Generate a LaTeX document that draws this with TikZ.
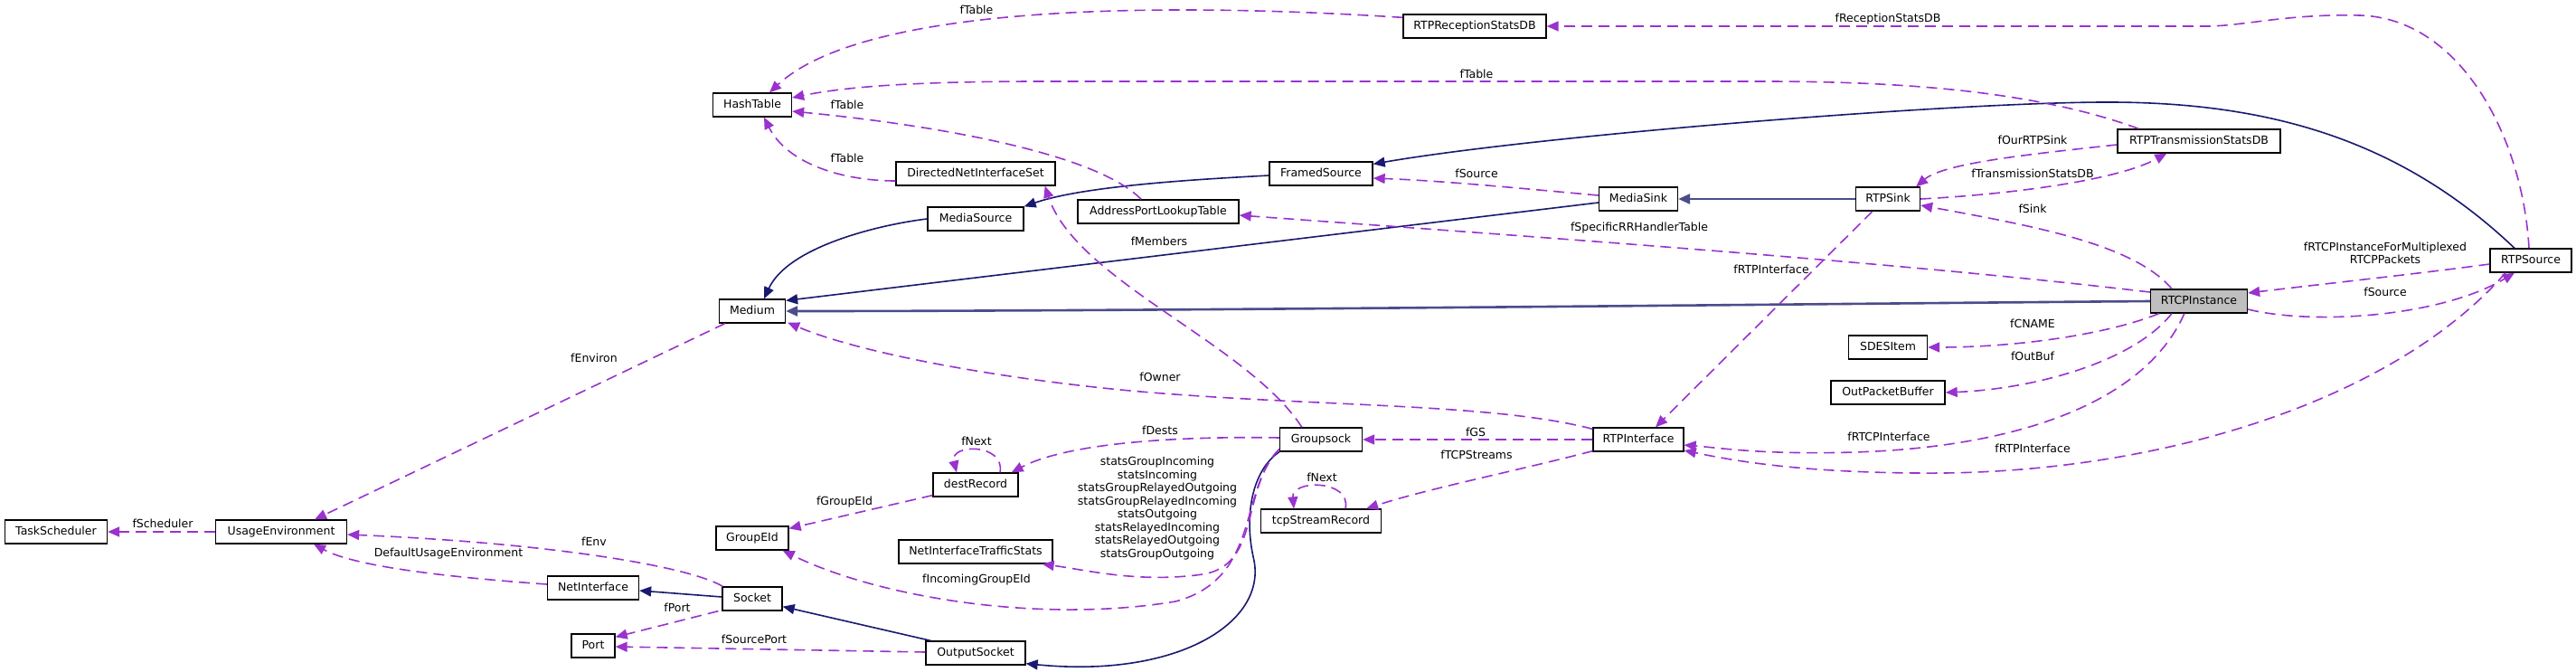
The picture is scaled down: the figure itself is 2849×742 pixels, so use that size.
\documentclass[tikz,border=0pt]{standalone}
\usepackage{fontspec}
\setmainfont{DejaVu Sans}
\usetikzlibrary{arrows.meta,calc}
\definecolor{inhc}{HTML}{191970}
\definecolor{inhthick}{HTML}{4C4C8C}
\definecolor{usec}{HTML}{9A32CD}
\definecolor{hilite}{HTML}{BFBFBF}
\begin{document}
\begin{tikzpicture}[x=1pt, y=-1pt,
  font=\fontsize{12.5}{14.5}\selectfont,
  cls/.style={draw=black, line width=1.3pt, fill=white, minimum height=26pt, inner sep=0pt, text height=9.5pt, text depth=2.5pt},
  inh/.style={draw=inhc, line width=1.6pt, -{Triangle[length=13pt,width=11pt]}},
  inhbold/.style={draw=inhthick, line width=2.6pt, -{Triangle[length=13pt,width=11pt]}},
  use/.style={draw=usec, line width=1.6pt, dash pattern=on 12pt off 7pt, -{Triangle[length=13pt,width=11pt]}},
  lbl/.style={inner sep=0pt, align=center, text=black}]
\useasboundingbox (0,0) rectangle (2849,742);
\fill[white] (0,0) rectangle (2849,742);

% ---------- nodes ----------
\node[cls, minimum width=113pt] (TaskScheduler) at (62,588) {TaskScheduler};
\node[cls, minimum width=145pt] (UsageEnvironment) at (311,588) {UsageEnvironment};
\node[cls, minimum width=101pt] (NetInterface) at (656,650) {NetInterface};
\node[cls, minimum width=48pt] (Port) at (656,714) {Port};
\node[cls, minimum width=73pt] (Medium) at (832,344) {Medium};
\node[cls, minimum width=87pt] (HashTable) at (832,116) {HashTable};
\node[cls, minimum width=80pt] (GroupEId) at (832,595) {GroupEId};
\node[cls, minimum width=66pt] (Socket) at (832,662) {Socket};
\node[cls, minimum width=176pt] (DirectedNetInterfaceSet) at (1079,192) {DirectedNetInterfaceSet};
\node[cls, minimum width=106pt] (MediaSource) at (1079,242) {MediaSource};
\node[cls, minimum width=94pt] (destRecord) at (1079,536) {destRecord};
\node[cls, minimum width=170pt] (NetInterfaceTrafficStats) at (1079,610) {NetInterfaceTrafficStats};
\node[cls, minimum width=110pt] (OutputSocket) at (1079,722) {OutputSocket};
\node[cls, minimum width=178pt] (AddressPortLookupTable) at (1281,234) {AddressPortLookupTable};
\node[cls, minimum width=114pt] (FramedSource) at (1461,192) {FramedSource};
\node[cls, minimum width=91pt] (Groupsock) at (1461,486) {Groupsock};
\node[cls, minimum width=133pt] (tcpStreamRecord) at (1461,576) {tcpStreamRecord};
\node[cls, minimum width=158pt] (RTPReceptionStatsDB) at (1631,29) {RTPReceptionStatsDB};
\node[cls, minimum width=87pt] (MediaSink) at (1812,220) {MediaSink};
\node[cls, minimum width=100pt] (RTPInterface) at (1812,486) {RTPInterface};
\node[cls, minimum width=71pt] (RTPSink) at (2088,220) {RTPSink};
\node[cls, minimum width=87pt] (SDESItem) at (2088,384) {SDESItem};
\node[cls, minimum width=126pt] (OutPacketBuffer) at (2088,434) {OutPacketBuffer};
\node[cls, minimum width=180pt] (RTPTransmissionStatsDB) at (2432,156) {RTPTransmissionStatsDB};
\node[cls, minimum width=107pt, fill=hilite] (RTCPInstance) at (2432,333) {RTCPInstance};
\node[cls, minimum width=90pt] (RTPSource) at (2799,288) {RTPSource};

% ---------- inheritance (solid) ----------
\draw[inh] (MediaSource.west) .. controls (975,248) and (872,272) .. ($(Medium.north)+(13,0)$);
\draw[inh] ($(MediaSink.west)+(0,4)$) -- ($(Medium.north east)+(0,2)$);
\draw[inhbold] (RTCPInstance.west) .. controls (2000,336) and (1300,344) .. (Medium.east);
\draw[inh] ($(FramedSource.west)+(0,2)$) .. controls (1330,198) and (1200,205) .. (MediaSource.north east);
\draw[inh] ($(RTPSource.north)+(-18,0)$) .. controls (2650,150) and (2500,112) .. (2324,113)
   .. controls (2150,114) and (1700,150) .. ($(FramedSource.north east)+(0,3)$);
\draw[inhbold] (RTPSink.west) -- (MediaSink.east);
\draw[inh] ($(Socket.west)+(0,-2)$) -- ($(NetInterface.east)+(0,3)$);
\draw[inh] ($(OutputSocket.north west)+(6,0)$) -- ($(Socket.south east)+(0,-5)$);
\draw[inh] (Groupsock.south west) .. controls (1385,520) and (1375,570) .. (1387,620)
   .. controls (1400,690) and (1300,750) .. ($(OutputSocket.south east)+(0,-2)$);

% ---------- usage (dashed) ----------
\draw[use] ($(RTPReceptionStatsDB.north west)+(0,4)$) .. controls (1250,0) and (950,10) .. ($(HashTable.north)+(19,0)$);
\draw[use] ($(RTPTransmissionStatsDB.north west)+(24,0)$) .. controls (2250,100) and (2100,90) .. (1950,90)
   -- (1150,90) .. controls (1000,90) and (930,97) .. ($(HashTable.east)+(0,-8)$);
\draw[use] ($(AddressPortLookupTable.north)+(-19,0)$) .. controls (1215,172) and (1050,140) .. ($(HashTable.east)+(0,7)$);
\draw[use] ($(DirectedNetInterfaceSet.west)+(0,8)$) .. controls (930,200) and (870,180) .. ($(HashTable.south)+(13,0)$);
\draw[use] ($(RTPSource.north)+(-2,0)$) .. controls (2790,150) and (2720,20) .. (2610,17)
   .. controls (2530,15) and (2480,29) .. (2440,29) -- (RTPReceptionStatsDB.east);
\draw[use] ($(RTPTransmissionStatsDB.west)+(0,4)$) .. controls (2250,170) and (2150,180) .. ($(RTPSink.north east)+(-5,0)$);
\draw[use] (RTPSink.east) .. controls (2220,215) and (2340,200) .. ($(RTPTransmissionStatsDB.south west)+(55,0)$);
\draw[use] ($(RTCPInstance.north)+(-30,0)$) .. controls (2360,270) and (2250,250) .. ($(RTPSink.east)+(0,7)$);
\draw[use] ($(MediaSink.west)+(0,-4)$) .. controls (1700,210) and (1600,200) .. ($(FramedSource.east)+(0,5)$);
\draw[use] ($(RTCPInstance.west)+(0,-10)$) .. controls (2100,290) and (1700,262) .. ($(AddressPortLookupTable.east)+(0,4)$);
\draw[use] ($(RTPSource.west)+(0,4)$) .. controls (2680,302) and (2560,315) .. ($(RTCPInstance.east)+(0,-9)$);
\draw[use] ($(RTCPInstance.east)+(0,9)$) .. controls (2560,360) and (2700,350) .. ($(RTPSource.south)+(-18,0)$);
\draw[use] ($(Medium.south west)+(7,0)$) -- ($(UsageEnvironment.north)+(37,0)$);
\draw[use] (UsageEnvironment.west) -- (TaskScheduler.east);
\draw[use] ($(Socket.north west)+(1,0)$) .. controls (760,625) and (600,600) .. ($(UsageEnvironment.east)+(0,3)$);
\draw[use] ($(NetInterface.west)+(0,-4)$) .. controls (480,637) and (390,625) .. ($(UsageEnvironment.south)+(36,0)$);
\draw[use] ($(Socket.south west)+(-4,0)$) -- ($(Port.north east)+(0,4)$);
\draw[use] ($(OutputSocket.west)+(0,-1)$) -- ($(Port.east)+(0,1)$);
\draw[use] ($(destRecord.south west)+(0,-2)$) -- ($(GroupEId.north east)+(0,3)$);
\draw[use] ($(Groupsock.south west)+(0,-3)$) .. controls (1370,540) and (1395,640) .. (1300,665)
   .. controls (1150,690) and (970,660) .. ($(GroupEId.south east)+(-7,0)$);
\draw[use] ($(Groupsock.south west)+(0,-3)$) .. controls (1372,540) and (1395,625) .. (1330,635)
   .. controls (1260,645) and (1200,630) .. ($(NetInterfaceTrafficStats.south east)+(-12,0)$);
\draw[use] ($(Groupsock.west)+(0,-2)$) .. controls (1300,482) and (1180,490) .. ($(destRecord.north east)+(-8,0)$);
\draw[use] ($(destRecord.north)+(27,0)$) .. controls (1112,490) and (1050,490) .. ($(destRecord.north)+(-21,0)$);
\draw[use] (RTPInterface.west) -- (Groupsock.east);
\draw[use] ($(RTPInterface.south west)+(0,-1)$) .. controls (1680,520) and (1580,540) .. ($(tcpStreamRecord.north east)+(-17,0)$);
\draw[use] ($(tcpStreamRecord.north)+(27,0)$) .. controls (1495,530) and (1428,530) .. ($(tcpStreamRecord.north)+(-30,0)$);
\draw[use] ($(RTPInterface.north west)+(0,2)$) .. controls (1650,445) and (1450,450) .. (1250,432)
   .. controls (1100,418) and (950,390) .. ($(Medium.south east)+(2,-1)$);
\draw[use] ($(Groupsock.north west)+(25,0)$) .. controls (1380,380) and (1190,310) .. ($(DirectedNetInterfaceSet.south east)+(-12,0)$);
\draw[use] ($(RTPSink.south west)+(19,0)$) -- ($(RTPInterface.north)+(19,0)$);
\draw[use] ($(RTCPInstance.south west)+(10,0)$) .. controls (2330,370) and (2230,384) .. (SDESItem.east);
\draw[use] ($(RTCPInstance.south west)+(24,0)$) .. controls (2360,400) and (2250,430) .. (OutPacketBuffer.east);
\draw[use] ($(RTCPInstance.south west)+(38,0)$) .. controls (2370,450) and (2220,495) .. (2050,500)
   .. controls (1950,503) and (1900,495) .. ($(RTPInterface.east)+(0,6)$);
\draw[use] ($(RTPSource.south)+(-28,0)$) .. controls (2650,440) and (2400,520) .. (2150,523)
   .. controls (2000,524) and (1920,510) .. ($(RTPInterface.east)+(0,12)$);

% ---------- labels ----------
\node[lbl] (l1) at (1080,11) {fTable};
\node[lbl] (l2) at (1633,82) {fTable};
\node[lbl] (l3) at (937,116) {fTable};
\node[lbl] (l4) at (937,175) {fTable};
\node[lbl] (l5) at (2088,21) {fReceptionStatsDB};
\node[lbl] (l6) at (2248,155) {fOurRTPSink};
\node[lbl] (l7) at (2248,192) {fTransmissionStatsDB};
\node[lbl] (l8) at (2248,231) {fSink};
\node[lbl] (l9) at (1633,192) {fSource};
\node[lbl] (l10) at (1813,252) {fSpecificRRHandlerTable};
\node[lbl] (l11) at (1282,267) {fMembers};
\node[lbl] (l12) at (1959,298) {fRTPInterface};
\node[lbl] (l13) at (2638,280) {fRTCPInstanceForMultiplexed\\RTCPPackets};
\node[lbl] (l14) at (2638,323) {fSource};
\node[lbl] (l15) at (2248,358) {fCNAME};
\node[lbl] (l16) at (2248,394) {fOutBuf};
\node[lbl] (l17) at (657,396) {fEnviron};
\node[lbl] (l18) at (1283,417) {fOwner};
\node[lbl] (l19) at (1283,476) {fDests};
\node[lbl] (l20) at (1632,478) {fGS};
\node[lbl] (l21) at (2089,483) {fRTCPInterface};
\node[lbl] (l22) at (1080,488) {fNext};
\node[lbl] (l23) at (2248,496) {fRTPInterface};
\node[lbl] (l24) at (1633,503) {fTCPStreams};
\node[lbl] (l25) at (1462,528) {fNext};
\node[lbl] (l26) at (934,555) {fGroupEId};
\node[lbl] (l27) at (180,579) {fScheduler};
\node[lbl] (l28) at (657,599) {fEnv};
\node[lbl] (l29) at (496,612) {DefaultUsageEnvironment};
\node[lbl] (l30) at (1080,641) {fIncomingGroupEId};
\node[lbl] (l31) at (749,672) {fPort};
\node[lbl] (l32) at (834,707) {fSourcePort};
\node[lbl] (l33) at (1280,562) {statsGroupIncoming\\statsIncoming\\statsGroupRelayedOutgoing\\statsGroupRelayedIncoming\\statsOutgoing\\statsRelayedIncoming\\statsRelayedOutgoing\\statsGroupOutgoing};
\end{tikzpicture}
\end{document}
